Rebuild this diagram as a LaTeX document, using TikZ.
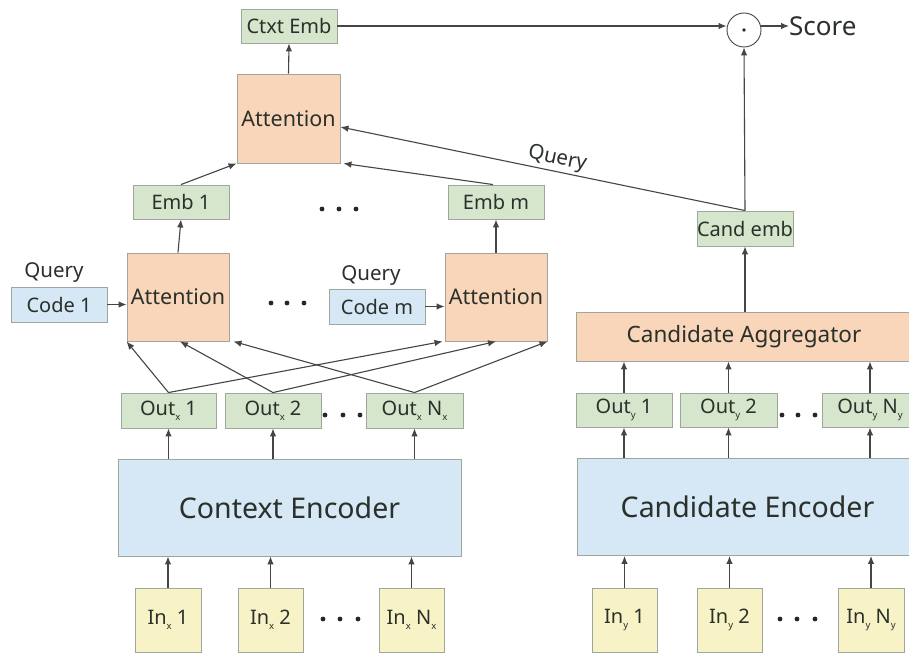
\documentclass[tikz,border=0pt]{standalone}
\usepackage{fontspec}
\setmainfont{Noto Sans}
\usetikzlibrary{arrows.meta,calc}

\definecolor{embgreen}{HTML}{D5E6CC}
\definecolor{attorange}{HTML}{F9D6BA}
\definecolor{encblue}{HTML}{D6E8F6}
\definecolor{inyellow}{HTML}{F8F3C6}
\definecolor{boxline}{HTML}{9EA69E}
\definecolor{txt}{HTML}{2A302A}
\definecolor{wire}{HTML}{454545}

% small lowered index, as in Out_x, In_y, N_x
\newcommand\idx[1]{\raisebox{-0.45ex}{\fontsize{9.5}{9.5}\selectfont #1}}

\tikzset{
  base/.style={draw=boxline, line width=0.9pt, inner sep=0pt, text=txt, font=\fontsize{20}{22}\selectfont},
  emb/.style={base, fill=embgreen, minimum width=96, minimum height=34},
  att/.style={base, fill=attorange, minimum width=102, minimum height=88, font=\fontsize{21.5}{23}\selectfont},
  code/.style={base, fill=encblue, minimum width=96, minimum height=35},
  enc/.style={base, fill=encblue, minimum height=97, font=\fontsize{28.5}{30}\selectfont},
  inbox/.style={base, fill=inyellow, minimum width=65, minimum height=64},
  lbl/.style={inner sep=0pt, text=txt, font=\fontsize{20.5}{22}\selectfont},
  arr/.style={draw=wire, line width=1.1pt, -{Latex[length=8pt,width=6.5pt]}},
  dot/.style={fill=black!85},
}

\begin{document}
\begin{tikzpicture}[x=1pt,y=-1pt]
  \useasboundingbox (0,0) rectangle (909,655);
  \fill[white] (0,0) rectangle (909,655);
  \clip (0,0) rectangle (909,655);

  % ---- context side: top attention over the code embeddings
  \node[emb] (ctxt) at (289,26) {Ctxt Emb};
  \node[att, minimum width=103, minimum height=89] (atttop) at (288.5,118.5) {Attention};
  \node[emb] (emb1) at (181,202) {Emb 1};
  \node[emb] (embm) at (496,202) {Emb m};

  % ---- per-code attention blocks
  \node[att] (att1) at (178,297) {Attention};
  \node[att] (attm) at (496,297) {Attention};
  \node[code] (code1) at (59,304.5) {Code 1};
  \node[code] (codem) at (377,306.5) {Code m};
  \node[lbl] (q1) at (54,273) {Query};
  \node[lbl] (qm) at (371,276) {Query};

  % ---- context encoder outputs
  \node[emb, minimum width=95, minimum height=35] (ox1) at (168.5,410.5) {Out\idx{x} 1};
  \node[emb, minimum height=35] (ox2) at (273,410.5) {Out\idx{x} 2};
  \node[emb, minimum width=97, minimum height=35] (oxn) at (414.5,410.5) {Out\idx{x} N\idx{x}};
  \node[enc, minimum width=343] (cenc) at (289.5,507.5) {Context Encoder};
  \node[inbox, minimum width=66] (ix1) at (168,620) {In\idx{x} 1};
  \node[inbox] (ix2) at (270.5,620) {In\idx{x} 2};
  \node[inbox] (ixn) at (411.5,620) {In\idx{x} N\idx{x}};

  % ---- candidate side
  \node[draw=wire, line width=0.9pt, circle, minimum size=34, inner sep=0pt] (dotp) at (744,30) {};
  \fill[black!85] (dotp.center) circle (1.8);
  \node[inner sep=0pt, anchor=west, text=txt, font=\fontsize{26}{28}\selectfont] (score) at (789,26) {Score};
  \node[emb, minimum height=35] (cemb) at (745,228.5) {Cand emb};
  \node[base, fill=attorange, minimum width=336, minimum height=49, font=\fontsize{22.5}{24}\selectfont] (cagg) at (744,336.5) {Candidate Aggregator};
  \node[emb] (oy1) at (624,410) {Out\idx{y} 1};
  \node[emb, minimum width=97] (oy2) at (728.5,410) {Out\idx{y} 2};
  \node[emb] (oyn) at (870,410) {Out\idx{y} N\idx{y}};
  \node[enc, minimum width=341] (yenc) at (747.5,507) {Candidate Encoder};
  \node[inbox] (iy1) at (624.5,620) {In\idx{y} 1};
  \node[inbox] (iy2) at (729.5,620) {In\idx{y} 2};
  \node[inbox, minimum width=66] (iyn) at (871,620) {In\idx{y} N\idx{y}};

  % ---- ellipses
  \foreach \x/\y in {322/209, 339/209, 356/209,
                     271/303, 287/303, 304/303,
                     325/415, 343/415, 360/415,
                     323/619, 340/619, 358/619,
                     782/415, 798/415, 815/415,
                     780/619, 797/619, 815/619}
    \fill[dot] (\x,\y) circle (2.4);

  % ---- connectors: top
  \draw[arr] (atttop.north) -- (ctxt.south);
  \draw[arr] (ctxt.east) -- (dotp.west |- ctxt.east);
  \draw[arr] (dotp.east |- score.west) -- (score.west);
  \draw[arr] (cemb.north) -- (dotp.south);
  \draw[arr] (cemb.north) -- node[lbl, sloped, above=2pt, pos=0.47] {Query} ($(atttop.east)+(0,8.5)$);
  \draw[arr] ($(embm.north)+(-3,0)$) -- ($(atttop.south east)+(3,0)$);
  \draw[arr] (emb1.north) -- (atttop.south west);

  % ---- connectors: attention blocks
  \draw[arr] (att1.north) -- (emb1.south);
  \draw[arr] (attm.north) -- (embm.south);
  \draw[arr] (code1.east) -- (code1.east -| att1.west);
  \draw[arr] (codem.east) -- (codem.east -| attm.west);

  \draw[arr] (ox1.north) -- (att1.south west);
  \draw[arr] (ox1.north) -- ($(attm.south west)+(-2,0)$);
  \draw[arr] (ox2.north) -- ($(att1.south)+(2,0)$);
  \draw[arr] (ox2.north) -- (attm.south);
  \draw[arr] (oxn.north) -- ($(att1.south east)+(4,0)$);
  \draw[arr] (oxn.north) -- (attm.south east);

  % ---- connectors: context encoder
  \foreach \o in {ox1,ox2,oxn}
    \draw[arr] (\o.south |- cenc.north) -- (\o.south);
  \foreach \i in {ix1,ix2,ixn}
    \draw[arr] (\i.north) -- (\i.north |- cenc.south);

  % ---- connectors: candidate encoder
  \draw[arr] (cemb.south |- cagg.north) -- (cemb.south);
  \foreach \o in {oy1,oy2,oyn}
    \draw[arr] (\o.north) -- (\o.north |- cagg.south);
  \foreach \o in {oy1,oy2,oyn}
    \draw[arr] (\o.south |- yenc.north) -- (\o.south);
  \foreach \i in {iy1,iy2,iyn}
    \draw[arr] (\i.north) -- (\i.north |- yenc.south);
\end{tikzpicture}
\end{document}
